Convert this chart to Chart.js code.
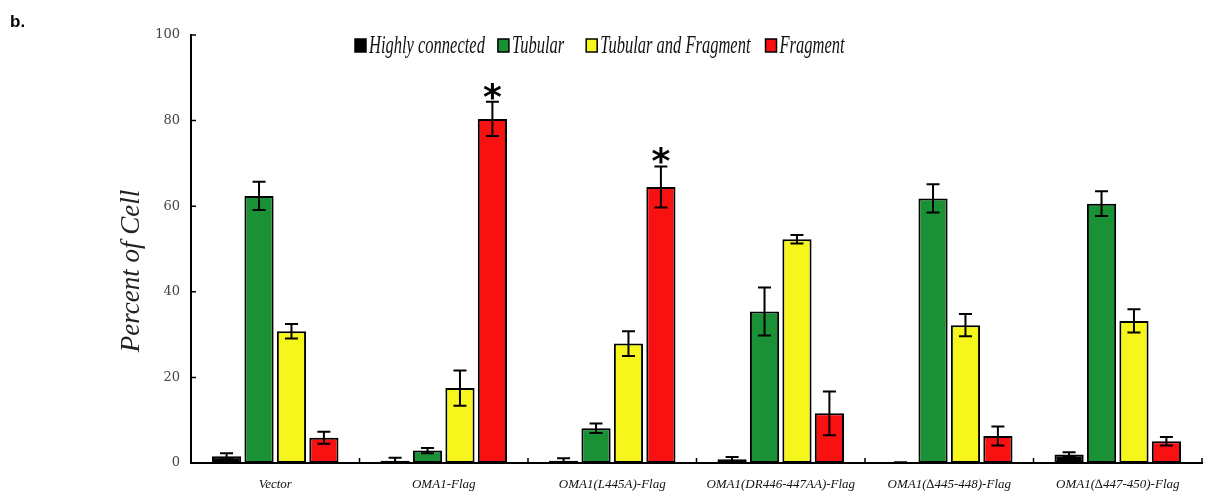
<!DOCTYPE html>
<html>
<head>
<meta charset="utf-8">
<script src="https://cdn.jsdelivr.net/npm/chart.js@4"></script>
<style>
  html, body { margin: 0; padding: 0; background: #fff; }
  #wrap { width: 1210px; height: 492px; position: relative; }
</style>
</head>
<body>
<div id="wrap"><canvas id="mitoChart"></canvas></div>
<script>
// --- Data ---
const categories = [
  "Vector",
  "OMA1-Flag",
  "OMA1(L445A)-Flag",
  "OMA1(DR446-447AA)-Flag",
  "OMA1(\u2206445-448)-Flag",
  "OMA1(\u2206447-450)-Flag"
];
const seriesNames = ["Highly connected", "Tubular", "Tubular and Fragment", "Fragment"];

const highlyConnected    = [1.6, 0.5, 0.5, 0.9, 0.1, 2.0];
const highlyConnectedErr = [0.7, 0.7, 0.6, 0.5, 0.1, 0.5];
const tubular            = [62.4, 2.9, 8.1, 35.4, 61.8, 60.6];
const tubularErr         = [3.3, 0.6, 1.1, 5.6, 3.3, 2.9];
const tubFrag            = [30.8, 17.5, 27.9, 52.3, 32.2, 33.2];
const tubFragErr         = [1.7, 4.1, 2.9, 1.0, 2.6, 2.7];
const fragment           = [5.9, 80.4, 64.5, 11.6, 6.3, 5.1];
const fragmentErr        = [1.4, 4.0, 4.8, 5.1, 2.2, 1.0];
const fragmentStar       = [false, true, true, false, false, false];

const yTicks = [0, 20, 40, 60, 80, 100];

const seriesColors = ["#000000", "#1a9134", "#f6f61c", "#f91111"];

// --- Helpers ---
const serif = "'Liberation Serif', 'Times New Roman', serif";

function makeSet(label, data, err, color) {
  return {
    label,
    data,
    errors: err,
    backgroundColor: color,
    borderColor: "#000",
    borderWidth: 2,
    borderSkipped: false,
    categoryPercentage: 0.77,
    barPercentage: 0.9
  };
}

// --- Custom drawing: error bars, stars, ticks, legend, titles ---
const decorPlugin = {
  id: "decor",
  beforeDraw(chart) {
    const ctx = chart.ctx;
    ctx.save();
    ctx.fillStyle = "#fff";
    ctx.fillRect(0, 0, chart.width, chart.height);
    ctx.restore();
  },
  afterDatasetsDraw(chart) {
    const ctx = chart.ctx;
    const yScale = chart.scales.y;
    ctx.save();
    ctx.strokeStyle = "#000";
    ctx.lineWidth = 2;
    chart.data.datasets.forEach((ds, di) => {
      const meta = chart.getDatasetMeta(di);
      meta.data.forEach((bar, i) => {
        const v = ds.data[i], e = ds.errors[i];
        const yTop = yScale.getPixelForValue(v + e);
        const yBot = yScale.getPixelForValue(Math.max(0, v - e));
        const cap = 6.5;
        ctx.beginPath();
        ctx.moveTo(bar.x, yTop); ctx.lineTo(bar.x, yBot);
        ctx.moveTo(bar.x - cap, yTop); ctx.lineTo(bar.x + cap, yTop);
        ctx.moveTo(bar.x - cap, yBot); ctx.lineTo(bar.x + cap, yBot);
        ctx.stroke();
        if (di === 3 && fragmentStar[i]) {
          ctx.fillStyle = "#000";
          ctx.font = "bold 36px 'DejaVu Sans', sans-serif";
          ctx.textAlign = "center";
          ctx.textBaseline = "alphabetic";
          ctx.fillText("*", bar.x, yTop + 7);
        }
      });
    });
    ctx.restore();
  },
  afterDraw(chart) {
    const ctx = chart.ctx;
    const { left, right, top, bottom } = chart.chartArea;
    const xScale = chart.scales.x, yScale = chart.scales.y;
    ctx.save();

    // inward tick marks
    ctx.strokeStyle = "#000";
    ctx.lineWidth = 1.5;
    ctx.beginPath();
    yTicks.forEach(t => {
      const y = yScale.getPixelForValue(t);
      ctx.moveTo(left, y); ctx.lineTo(left + 5, y);
    });
    for (let i = 0; i <= categories.length; i++) {
      const x = xScale.getPixelForValue(i - 0.5);
      ctx.moveTo(x, bottom); ctx.lineTo(x, bottom - 5);
    }
    ctx.stroke();

    // panel label
    ctx.fillStyle = "#000";
    ctx.font = "bold 17px 'Liberation Sans', Arial, sans-serif";
    ctx.textAlign = "left";
    ctx.textBaseline = "alphabetic";
    ctx.fillText("b.", 10, 27);

    // y axis title
    ctx.save();
    ctx.translate(139, 271);
    ctx.rotate(-Math.PI / 2);
    ctx.font = "italic 27px " + serif;
    ctx.textAlign = "center";
    ctx.fillStyle = "#222";
    ctx.fillText("Percent of Cell", 0, 0);
    ctx.restore();

    // legend
    const squeeze = 0.66;
    const gaps = [13, 22, 15, 0];
    let lx = 355;
    const ly = 53;
    ctx.font = "italic 25px " + serif;
    chart.data.datasets.forEach((ds, di) => {
      ctx.fillStyle = ds.backgroundColor;
      ctx.fillRect(lx, ly - 14, 11, 13);
      ctx.strokeStyle = "#000";
      ctx.lineWidth = 1.5;
      ctx.strokeRect(lx, ly - 14, 11, 13);
      const tx = lx + 14;
      ctx.save();
      ctx.translate(tx, ly);
      ctx.scale(squeeze, 1);
      ctx.fillStyle = "#111";
      ctx.fillText(ds.label, 0, 0);
      ctx.restore();
      lx = tx + ctx.measureText(ds.label).width * squeeze + gaps[di];
    });

    ctx.restore();
  }
};

// --- Chart ---
const ctx = document.getElementById("mitoChart");
new Chart(ctx, {
  type: "bar",
  data: {
    labels: categories,
    datasets: [
      makeSet(seriesNames[0], highlyConnected, highlyConnectedErr, seriesColors[0]),
      makeSet(seriesNames[1], tubular, tubularErr, seriesColors[1]),
      makeSet(seriesNames[2], tubFrag, tubFragErr, seriesColors[2]),
      makeSet(seriesNames[3], fragment, fragmentErr, seriesColors[3])
    ]
  },
  options: {
    responsive: true,
    maintainAspectRatio: false,
    animation: false,
    layout: { padding: { top: 35, right: 8, left: 0, bottom: 0 } },
    plugins: {
      legend: { display: false },
      tooltip: { enabled: false }
    },
    scales: {
      x: {
        grid: { display: false, drawTicks: false },
        border: { display: true, color: "#000", width: 2 },
        ticks: {
          autoSkip: false,
          maxRotation: 0,
          padding: 14,
          color: "#111",
          font: { family: serif, style: "italic", size: 13 }
        },
        afterFit(scale) { scale.height = 29; }
      },
      y: {
        min: 0,
        max: 100,
        grid: { display: false, drawTicks: false },
        border: { display: true, color: "#000", width: 2 },
        ticks: {
          stepSize: 20,
          padding: 11,
          color: "#444",
          font: { family: "'DejaVu Serif', serif", size: 13 }
        },
        afterFit(scale) { scale.width = 191; }
      }
    }
  },
  plugins: [decorPlugin]
});
</script>
</body>
</html>
